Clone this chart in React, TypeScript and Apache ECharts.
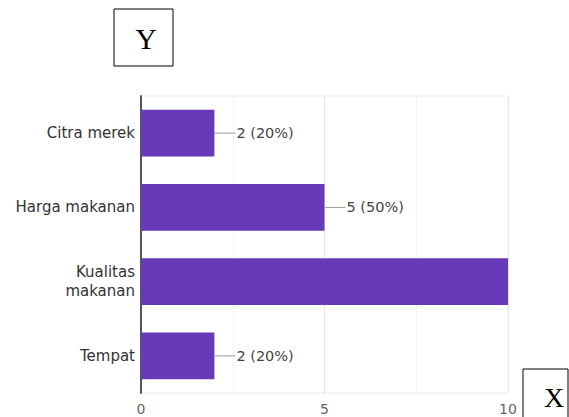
import React, { useEffect, useRef } from "react";
import * as echarts from "echarts";

const categories = ["Citra merek", "Harga makanan", "Kualitas\nmakanan", "Tempat"];
const counts = [2, 5, 10, 2];
const percents = [20, 50, 100, 20];
const showLabel = [true, true, false, true];
const xTicks = [0, 5, 10];

export default function App() {
  const ref = useRef<HTMLDivElement>(null);
  useEffect(() => {
    if (!ref.current) return;
    const chart = echarts.init(ref.current, undefined, { renderer: "svg" });
    chart.setOption({
      animation: false,
      grid: {
        left: 141,
        right: 61,
        top: 96,
        bottom: 24,
        show: true,
        borderColor: "#ececec",
        borderWidth: 1,
      },
      xAxis: {
        type: "value",
        min: xTicks[0],
        max: xTicks[xTicks.length - 1],
        interval: xTicks[1] - xTicks[0],
        axisLine: { show: false },
        axisTick: { show: false },
        axisLabel: {
          color: "#666",
          fontFamily: "DejaVu Sans",
          fontSize: 14,
          margin: 9,
        },
        splitLine: { show: true, lineStyle: { color: "#e6e6e6", width: 1 } },
        minorTick: { show: false, splitNumber: 2 },
        minorSplitLine: { show: true, lineStyle: { color: "#f2f2f2", width: 1 } },
      },
      yAxis: {
        type: "category",
        data: categories,
        inverse: true,
        axisLine: { show: true, lineStyle: { color: "#555", width: 2 } },
        axisTick: { show: false },
        axisLabel: {
          color: "#333",
          fontFamily: "DejaVu Sans",
          fontSize: 15,
          margin: 6,
          lineHeight: 19,
          align: "right",
        },
      },
      series: [
        {
          type: "bar",
          barCategoryGap: "37%",
          itemStyle: { color: "#673ab7" },
          data: counts.map((v, i) => ({
            value: v,
            label: { show: showLabel[i] },
          })),
          label: {
            show: true,
            position: "right",
            distance: 0,
            formatter: (p: any) =>
              `{l|    }{t|${counts[p.dataIndex]} (${percents[p.dataIndex]}%)}`,
            rich: {
              l: { width: 21, height: 1, backgroundColor: "#999" },
              t: { color: "#444", fontFamily: "DejaVu Sans", fontSize: 14.5, padding: [0, 0, 0, 1] },
            },
          },
        },
      ],
      graphic: [
        {
          type: "rect",
          shape: { x: 114, y: 9, width: 59, height: 57 },
          style: { fill: "#fff", stroke: "#000", lineWidth: 1 },
        },
        {
          type: "text",
          x: 146,
          y: 38,
          style: {
            text: "Y",
            fill: "#000",
            font: '30px "Liberation Serif", serif',
            align: "center",
            verticalAlign: "middle",
          },
        },
        {
          type: "rect",
          shape: { x: 523, y: 369, width: 45, height: 55 },
          style: { fill: "#fff", stroke: "#000", lineWidth: 1 },
        },
        {
          type: "text",
          x: 554,
          y: 397,
          style: {
            text: "X",
            fill: "#000",
            font: '28px "Liberation Serif", serif',
            align: "center",
            verticalAlign: "middle",
          },
        },
      ],
    });
    return () => chart.dispose();
  }, []);
  return (
    <div
      ref={ref}
      style={{ position: "fixed", left: 0, top: 0, width: 569, height: 417, background: "#fff" }}
    />
  );
}
